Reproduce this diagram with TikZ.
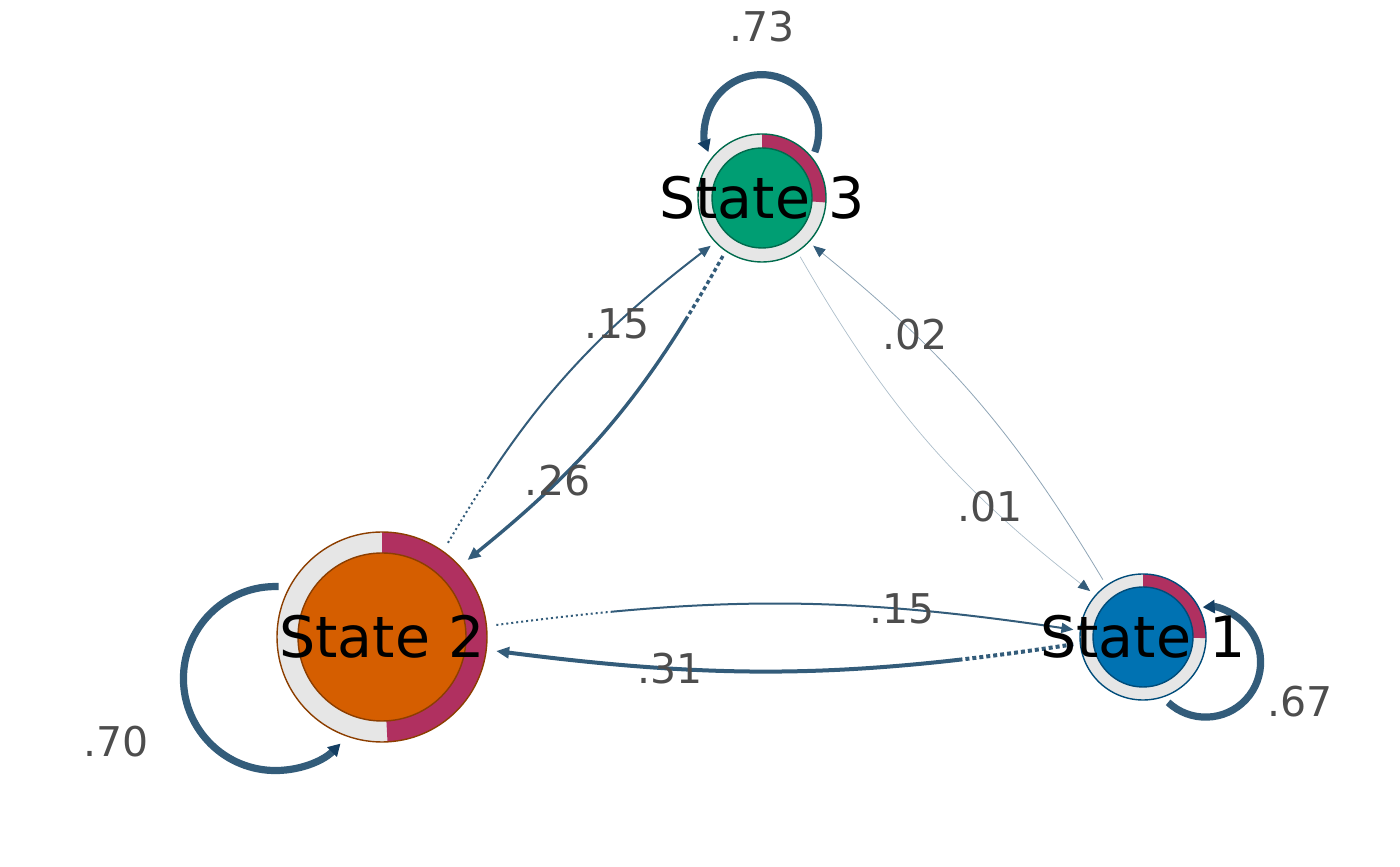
\documentclass[tikz,border=0pt]{standalone}
\usepackage{fontspec}
\setmainfont{DejaVu Sans}
\usetikzlibrary{arrows.meta}
\definecolor{ringgray}{HTML}{E6E6E6}
\definecolor{piered}{HTML}{B03060}
\definecolor{sthreein}{HTML}{009E73}
\definecolor{sthreeline}{HTML}{006B4D}
\definecolor{stwoin}{HTML}{D55E00}
\definecolor{stwoline}{HTML}{8C3E00}
\definecolor{soneinn}{HTML}{0072B2}
\definecolor{soneline}{HTML}{004C7A}
\definecolor{edgecol}{HTML}{335C7A}
\definecolor{tipcol}{HTML}{143F63}
\definecolor{lblgray}{HTML}{4D4D4D}
% dotted lead-in of an edge: #1 dots of length #2 with gaps #3, then solid
\newcommand{\leaddash}[3]{%
  \gdef\leadpat{}%
  \foreach \k in {1,...,#1}{\xdef\leadpat{\leadpat{#2}{#3}}}%
  \edef\leadtmp{\noexpand\pgfsetdash{\leadpat{2000pt}{1pt}}{0pt}}%
  \leadtmp}
\makeatletter
\tikzset{
	state/.style={circle,inner sep=0pt,outer sep=0pt},
	statelbl/.style={font=\fontsize{28.5}{30}\selectfont,inner sep=0pt},
	elbl/.style={font=\fontsize{20.5}{22}\selectfont,text=lblgray,inner sep=0pt},
	lead/.code n args={3}{\tikz@addoption{\leaddash{#1}{#2}{#3}}},
	trans/.style={draw=edgecol,line width=#1},
	selfloop/.style={draw=edgecol,line width=3.6pt,-{Triangle[length=6pt,width=6.5pt,color=tipcol]}}
}
\makeatother
\begin{document}
\begin{tikzpicture}[x=0.5pt,y=0.5pt]
\useasboundingbox (0,0) rectangle (1400,866);
% states (their borders are where the edges stop)
\node[state,minimum size=70pt] (s3) at (762,668) {};
\node[state,minimum size=115pt] (s2) at (382,229) {};
\node[state,minimum size=70pt] (s1) at (1143,229) {};

% self loops
\draw[selfloop] (s3.41) arc[start angle=-21,end angle=201,radius=57];
\draw[selfloop] (s2.154) arc[start angle=88,end angle=315,radius=92];
\draw[selfloop] (s1.-69) arc[start angle=227,end angle=453,radius=55];
\node[elbl] (l73) at (762,839) {.73};
\node[elbl] (l70) at (116,124) {.70};
\node[elbl] (l67) at (1300,164) {.67};

% transitions between states
\draw[trans=1pt,lead={15}{1pt}{1.5pt},-{Triangle[length=6pt,width=5pt,color=edgecol]}]
	(s2.55) to[bend left=11] node[elbl,pos=0.71] {.15} (s3.223);
\draw[trans=1.7pt,lead={10}{2pt}{1.5pt},-{Triangle[length=6.5pt,width=5.5pt,color=edgecol]}]
	(s3.236) to[bend left=11] node[elbl,pos=0.715] {.26} (s2.42);
\draw[trans=1pt,lead={23}{1pt}{1.5pt},-{Triangle[length=6pt,width=5pt,color=edgecol]}]
	(s2.6) to[bend left=8] node[elbl,pos=0.717] {.15} (s1.174);
\draw[trans=2pt,lead={16}{2pt}{1.5pt},-{Triangle[length=6.5pt,width=5.5pt,color=edgecol]}]
	(s1.186) to[bend left=8] node[elbl,pos=0.714] {.31} (s2.-7);
\draw[trans=0.35pt,draw=edgecol!40,-{Triangle[length=6pt,width=5pt,color=edgecol]}]
	(s3.-57) to[bend right=11] node[elbl,pos=0.72] {.01} (s1.139);
\draw[trans=0.4pt,draw=edgecol!55,-{Triangle[length=6pt,width=5pt,color=edgecol]}]
	(s1.125) to[bend right=10] node[elbl,pos=0.71] {.02} (s3.-43);

% state discs with the pie ring
\fill[ringgray] (s3.center) circle[radius=64];
\fill[piered] (s3.center) -- ++(90:64) arc[start angle=90,end angle=-4,radius=64] -- cycle;
\filldraw[fill=sthreein,draw=sthreeline,line width=0.7pt] (s3.center) circle[radius=50];
\draw[sthreeline,line width=0.7pt] (s3.center) circle[radius=64];

\fill[ringgray] (s2.center) circle[radius=105];
\fill[piered] (s2.center) -- ++(90:105) arc[start angle=90,end angle=-87,radius=105] -- cycle;
\filldraw[fill=stwoin,draw=stwoline,line width=0.7pt] (s2.center) circle[radius=84];
\draw[stwoline,line width=0.7pt] (s2.center) circle[radius=105];

\fill[ringgray] (s1.center) circle[radius=63];
\fill[piered] (s1.center) -- ++(90:63) arc[start angle=90,end angle=-1,radius=63] -- cycle;
\filldraw[fill=soneinn,draw=soneline,line width=0.7pt] (s1.center) circle[radius=50];
\draw[soneline,line width=0.7pt] (s1.center) circle[radius=63];

\node[statelbl] (t3) at (s3) {State 3};
\node[statelbl] (t2) at (s2) {State 2};
\node[statelbl] (t1) at (s1) {State 1};
\end{tikzpicture}
\end{document}
